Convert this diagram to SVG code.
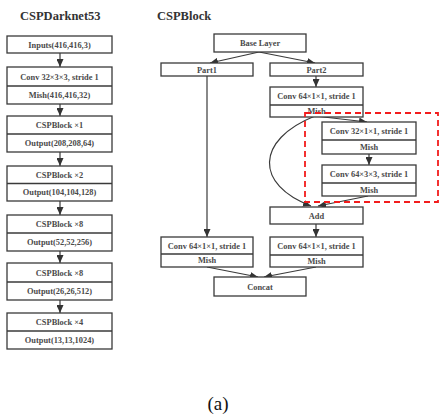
<svg xmlns="http://www.w3.org/2000/svg" width="439" height="415" viewBox="0 0 439 415">
<style>
.b{fill:#fff;stroke:#3a3a3a;stroke-width:1.3}
.d{stroke:#3a3a3a;stroke-width:1.3}
.t{font-family:"Liberation Serif",serif;font-weight:bold;font-size:8.4px;fill:#4a4a4a;text-anchor:middle}
.h{font-family:"Liberation Serif",serif;font-weight:bold;font-size:12.5px;fill:#333}
.c{fill:none;stroke:#3a3a3a;stroke-width:1.2;marker-end:url(#ah)}
</style>
<defs>
<marker id="ah" markerUnits="userSpaceOnUse" markerWidth="9" markerHeight="7" refX="8" refY="3.5" orient="auto">
<path d="M0,0 L8,3.5 L0,7 z" fill="#333"/>
</marker>
</defs>
<rect width="439" height="415" fill="#fff"/>
<text class="h" x="20" y="20">CSPDarknet53</text>
<text class="h" x="157" y="20">CSPBlock</text>

<g id="connectors">
<path class="c" d="M60,53 V67"/>
<path class="c" d="M60,104 V116"/>
<path class="c" d="M60,152 V166"/>
<path class="c" d="M60,201 V215"/>
<path class="c" d="M60,251 V263"/>
<path class="c" d="M60,300 V313"/>
<path class="c" d="M259,52 L210,63"/>
<path class="c" d="M259,52 L315,63"/>
<path class="c" d="M316,76 V87"/>
<path class="c" d="M315,116 L367,122"/>
<path class="c" d="M369,154 V165"/>
<path class="c" d="M315,116 C255,140 255,185 311,206"/>
<path class="c" d="M368,196 L318,206"/>
<path class="c" d="M316,224 V237"/>
<path class="c" d="M207,76 V237"/>
<path class="c" d="M207,267 L258,277"/>
<path class="c" d="M316,267 L264,277"/>
</g>

<g id="inputs"><rect class="b" x="7" y="36" width="105" height="17"/><text class="t" x="59.5" y="47.5">Inputs(416,416,3)</text></g>
<g id="conv1"><rect class="b" x="7" y="67" width="105" height="37"/><line class="d" x1="7" y1="86" x2="112" y2="86"/><text class="t" x="59.5" y="79.5">Conv 32×3×3, stride 1</text><text class="t" x="59.5" y="98">Mish(416,416,32)</text></g>
<g id="csp1"><rect class="b" x="7" y="116" width="105" height="36"/><line class="d" x1="7" y1="134" x2="112" y2="134"/><text class="t" x="59.5" y="128">CSPBlock ×1</text><text class="t" x="59.5" y="146">Output(208,208,64)</text></g>
<g id="csp2"><rect class="b" x="7" y="166" width="105" height="35"/><line class="d" x1="7" y1="183.5" x2="112" y2="183.5"/><text class="t" x="59.5" y="177.7">CSPBlock ×2</text><text class="t" x="59.5" y="195.2">Output(104,104,128)</text></g>
<g id="csp3"><rect class="b" x="7" y="215" width="105" height="36"/><line class="d" x1="7" y1="233" x2="112" y2="233"/><text class="t" x="59.5" y="227">CSPBlock ×8</text><text class="t" x="59.5" y="245">Output(52,52,256)</text></g>
<g id="csp4"><rect class="b" x="7" y="263" width="105" height="37"/><line class="d" x1="7" y1="282" x2="112" y2="282"/><text class="t" x="59.5" y="275.5">CSPBlock ×8</text><text class="t" x="59.5" y="294">Output(26,26,512)</text></g>
<g id="csp5"><rect class="b" x="7" y="313" width="105" height="36"/><line class="d" x1="7" y1="331" x2="112" y2="331"/><text class="t" x="59.5" y="325">CSPBlock ×4</text><text class="t" x="59.5" y="343">Output(13,13,1024)</text></g>

<g id="base"><rect class="b" x="214" y="34" width="92" height="18"/><text class="t" x="260" y="46">Base Layer</text></g>
<g id="part1"><rect class="b" x="161" y="63" width="92" height="13"/><text class="t" x="207" y="72.5">Part1</text></g>
<g id="part2"><rect class="b" x="270" y="63" width="93" height="13"/><text class="t" x="316.5" y="72.5">Part2</text></g>
<g id="convA"><rect class="b" x="270" y="87" width="93" height="30"/><line class="d" x1="270" y1="105" x2="363" y2="105"/><text class="t" x="316.5" y="99">Conv 64×1×1, stride 1</text><text class="t" x="316.5" y="113.5">Mish</text></g>
<g id="dashed"><rect x="305" y="113" width="133" height="89" fill="none" stroke="#f21c1c" stroke-width="1.8" stroke-dasharray="6,4"/></g>
<g id="convB"><rect class="b" x="322" y="122" width="94" height="32"/><line class="d" x1="322" y1="140" x2="416" y2="140"/><text class="t" x="369" y="134">Conv 32×1×1, stride 1</text><text class="t" x="369" y="150">Mish</text></g>
<g id="convC"><rect class="b" x="322" y="165" width="94" height="31"/><line class="d" x1="322" y1="183" x2="416" y2="183"/><text class="t" x="369" y="177">Conv 64×3×3, stride 1</text><text class="t" x="369" y="192.5">Mish</text></g>
<g id="add"><rect class="b" x="270" y="207" width="93" height="17"/><text class="t" x="316.5" y="218.5">Add</text></g>
<g id="convD"><rect class="b" x="270" y="237" width="93" height="30"/><line class="d" x1="270" y1="255" x2="363" y2="255"/><text class="t" x="316.5" y="249">Conv 64×1×1, stride 1</text><text class="t" x="316.5" y="263.8">Mish</text></g>
<g id="convE"><rect class="b" x="161" y="237" width="92" height="30"/><line class="d" x1="161" y1="254" x2="253" y2="254"/><text class="t" x="207" y="248.5">Conv 64×1×1, stride 1</text><text class="t" x="207" y="263.3">Mish</text></g>
<g id="concat"><rect class="b" x="214" y="277" width="92" height="19"/><text class="t" x="260" y="289.5">Concat</text></g>

<text x="218" y="410" font-family="Liberation Serif,serif" font-size="19" fill="#111" text-anchor="middle">(a)</text>
</svg>
